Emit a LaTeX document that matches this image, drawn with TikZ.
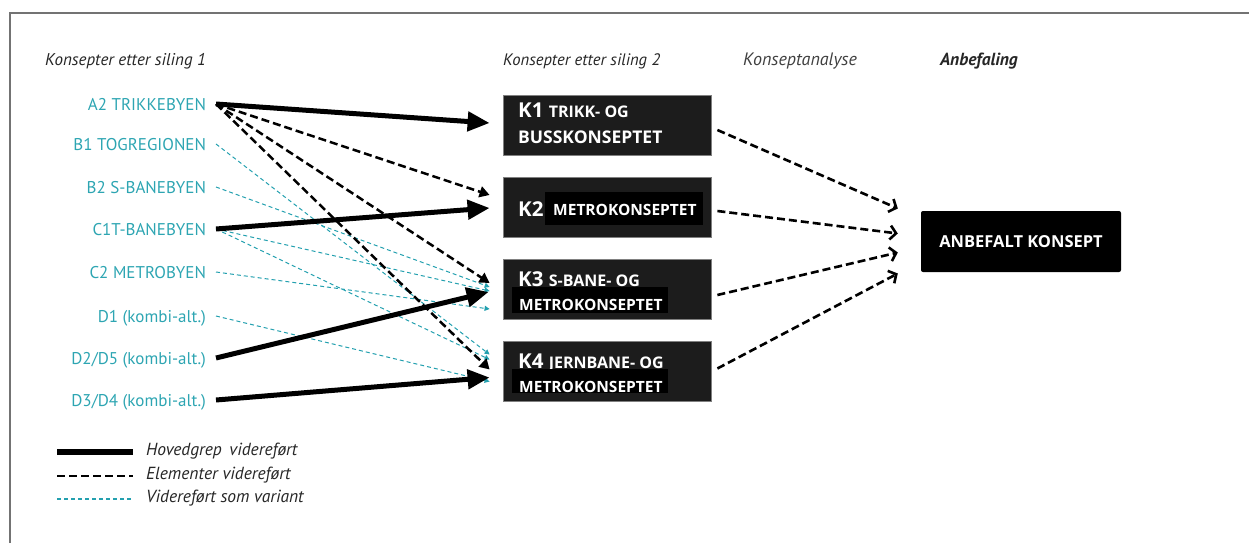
\documentclass[tikz,border=0pt]{standalone}
\usepackage{fontspec}
\setmainfont{PT Sans}
\newfontfamily\boxfont{Open Sans}
\usetikzlibrary{arrows.meta,calc}
\definecolor{tealtxt}{RGB}{45,165,178}
\definecolor{tealln}{RGB}{35,160,175}
\definecolor{boxfill}{RGB}{28,28,28}
\newcommand\KBigF{\boxfont\fontsize{20.5}{22}\selectfont\bfseries}
\newcommand\KMidF{\boxfont\fontsize{15.5}{17}\selectfont\bfseries}
\newcommand\KBusF{\boxfont\fontsize{17.5}{19}\selectfont\bfseries}
\newcommand\KSmlF{\boxfont\fontsize{16}{18}\selectfont\bfseries}
\begin{document}
\begin{tikzpicture}[x=1pt,y=-1pt,
  hdr/.style={font=\fontsize{17}{19}\selectfont\itshape, text=black!85, anchor=base west, inner sep=0pt},
  lab/.style={font=\fontsize{17}{19}\selectfont, text=tealtxt, anchor=east, inner xsep=5pt, outer xsep=5pt, inner ysep=0pt, text height=12pt, text depth=0pt},
  kbox/.style={fill=boxfill, draw=black!50, line width=0.8pt, minimum width=208pt, minimum height=60pt, inner sep=0pt},
  hl/.style={fill=black, inner sep=0pt},
  ktxt/.style={text=white, anchor=base west, inner sep=0pt},
  abox/.style={fill=black, rounded corners=2pt, minimum width=200pt, minimum height=61pt, text=white, font=\boxfont\fontsize{16.5}{18}\selectfont\bfseries, inner sep=0pt},
  legtxt/.style={font=\fontsize{17.5}{19}\selectfont\itshape, text=black!85, anchor=west, inner sep=0pt},
  main/.style={line width=5pt, -{Triangle[length=22pt,width=19pt]}},
  elem/.style={line width=2.5pt, dash pattern=on 8pt off 4pt, -{Triangle[length=10pt,width=11pt]}},
  vari/.style={tealln, line width=1pt, dash pattern=on 4pt off 3pt, -{Triangle[length=5pt,width=5pt]}},
  rarr/.style={line width=2.6pt, dash pattern=on 8pt off 4pt, -{Straight Barb[length=6pt,width=14pt,line width=2.6pt]}},
  legmain/.style={line width=6pt},
  legelem/.style={line width=2.5pt, dash pattern=on 8pt off 4pt},
  legvari/.style={tealln, line width=1.2pt, dash pattern=on 4pt off 3pt}
]
\useasboundingbox (0,0) rectangle (1249,543);
% frame
\coordinate (fa) at (10,543);
\coordinate (fb) at (10,13);
\coordinate (fc) at (1249,13);
\draw[black!55, line width=1.2pt] (fa) -- (fb) -- (fc);

% headers
\node[hdr] (h1) at (45,65) {Konsepter etter siling 1};
\node[hdr, font=\fontsize{16.6}{18}\selectfont\itshape] (h2) at (503,65) {Konsepter etter siling 2};
\node[hdr, text=black!75, font=\fontsize{18}{20}\selectfont\itshape] (h3) at (743,66) {Konseptanalyse};
\node[hdr, font=\fontsize{17.5}{19}\selectfont\itshape\bfseries] (h4) at (940,66) {Anbefaling};

% left labels
\node[lab] (a2) at (216,104) {A2 TRIKKEBYEN};
\node[lab] (b1) at (216,144) {B1 TOGREGIONEN};
\node[lab] (b2) at (216,187) {B2 S-BANEBYEN};
\node[lab] (c1) at (216,229) {C1T-BANEBYEN};
\node[lab] (c2) at (216,272) {C2 METROBYEN};
\node[lab] (d1) at (216,316) {D1 (kombi-alt.)};
\node[lab] (d2) at (216,358) {D2/D5 (kombi-alt.)};
\node[lab] (d3) at (216,400) {D3/D4 (kombi-alt.)};

% K boxes
\node[kbox] (k1) at (607,125) {};
\node[kbox] (k2) at (607,207) {};
\node[kbox] (k3) at (607,289) {};
\node[kbox] (k4) at (607,371.5) {};

\node[ktxt] (k1a) at (518,117) {\KBigF K1 \KSmlF TRIKK- OG};
\node[ktxt] (k1b) at (518,143) {\KBusF BUSSKONSEPTET};

\node[ktxt] (k2a) at (518,216) {\KBigF K2};
\node[hl, minimum width=158pt, minimum height=33pt] (k2h) at (624,208.5) {};
\node[ktxt] (k2b) at (553,215) {\KMidF METROKONSEPTET};

\node[ktxt] (k3a) at (518,286) {\KBigF K3 \KSmlF S-BANE- OG};
\node[hl, minimum width=156pt, minimum height=26pt] (k3h) at (590,300) {};
\node[ktxt] (k3b) at (519,310) {\KMidF METROKONSEPTET};

\node[ktxt] (k4a) at (518,368) {\KBigF K4 \KSmlF JERNBANE- OG};
\node[hl, minimum width=156pt, minimum height=24pt] (k4h) at (590,381) {};
\node[ktxt] (k4b) at (519,392) {\KMidF METROKONSEPTET};

% recommendation
\node[abox] (ab) at (1021,241.5) {ANBEFALT KONSEPT};

% variant lines (cyan)
\draw[vari] (b1.east) -- ($(k4.west)+(-13,-17)$);
\draw[vari] (b2.east) -- ($(k3.west)+(-13,-2)$);
\draw[vari] (c1.east) -- ($(k3.west)+(-13,2)$);
\draw[vari] (c1.east) -- ($(k4.west)+(-13,-12)$);
\draw[vari] (c2.east) -- ($(k3.west)+(-13,20)$);
\draw[vari] (d1.east) -- ($(k4.west)+(-13,10)$);

% elements carried on (black dashed)
\draw[elem] (a2.east) -- ($(k2.west)+(-13,-12)$);
\draw[elem] (a2.east) -- ($(k3.west)+(-13,-6)$);
\draw[elem] (a2.east) -- ($(k4.west)+(-13,-2)$);

% main (thick)
\draw[main] (a2.east) -- ($(k1.west)+(-13,-2)$);
\draw[main] (c1.east) -- ($(k2.west)+(-13,1)$);
\draw[main] (d2.east) -- ($(k3.west)+(-14,3)$);
\draw[main] (d3.east) -- ($(k4.west)+(-13,6)$);

% to recommendation
\draw[rarr] ($(k1.east)+(6,5)$) -- ($(ab.west)+(-23,-33)$);
\draw[rarr] ($(k2.east)+(6,4)$) -- ($(ab.west)+(-23,-8)$);
\draw[rarr] ($(k3.east)+(6,6)$) -- ($(ab.west)+(-23,11)$);
\draw[rarr] ($(k4.east)+(6,-3)$) -- ($(ab.west)+(-23,32)$);

% legend
\coordinate (l1a) at (57,452); \coordinate (l1b) at (133,452);
\coordinate (l2a) at (57,476); \coordinate (l2b) at (133,476);
\coordinate (l3a) at (57,499); \coordinate (l3b) at (133,499);
\draw[legmain] (l1a) -- (l1b);
\draw[legelem] (l2a) -- (l2b);
\draw[legvari] (l3a) -- (l3b);
\node[legtxt] (t1) at (146,451) {Hovedgrep\, videreført};
\node[legtxt] (t2) at (146,475) {Elementer videreført};
\node[legtxt] (t3) at (146,498) {Videreført som variant};
\end{tikzpicture}
\end{document}
